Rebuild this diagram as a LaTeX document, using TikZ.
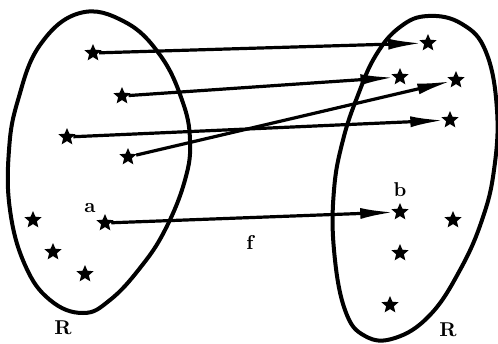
\documentclass[tikz,border=0pt]{standalone}
\usepackage{tikz}
\usetikzlibrary{arrows.meta, shapes.geometric}

\tikzset{
  pt/.style={star, star points=5, star point ratio=2.2, fill, inner sep=0pt, minimum size=9pt},
  lbl/.style={font=\normalsize\bfseries},
  set/.style={line width=2pt},
  map/.style={line width=1.6pt, -{Latex[length=17pt,width=5.5pt]}}
}

\begin{document}
\begin{tikzpicture}[x=0.5pt,y=-0.5pt]
  \useasboundingbox (0,0) rectangle (498,343);
  % the two sets
  \draw[set] plot[smooth cycle, tension=0.7] coordinates {(80,13) (125,22) (160,55) (182,100) (190,140) (185,180) (165,230) (140,268) (110,300) (83,313) (50,300) (25,265) (10,210) (9,150) (18,100) (40,45)};
  \draw[set] plot[smooth cycle, tension=0.7] coordinates {(428,16) (462,24) (486,52) (497,110) (494,170) (482,220) (460,270) (430,315) (395,338) (365,336) (345,310) (334,250) (334,190) (343,140) (358,95) (376,55) (400,27)};
  % points of the domain
  \node[pt] (l1) at (93,53) {};
  \node[pt] (l2) at (122,96) {};
  \node[pt] (l3) at (67,137) {};
  \node[pt] (l4) at (128,157) {};
  \node[pt] (l5) at (105,223) {};
  \node[pt] (l6) at (33,220) {};
  \node[pt] (l7) at (53,252) {};
  \node[pt] (l8) at (85,274) {};
  % points of the codomain
  \node[pt] (r1) at (428,43) {};
  \node[pt] (r2) at (400,77) {};
  \node[pt] (r3) at (456,80) {};
  \node[pt] (r4) at (450,120) {};
  \node[pt] (r5) at (400,212) {};
  \node[pt] (r6) at (453,220) {};
  \node[pt] (r7) at (400,253) {};
  \node[pt] (r8) at (390,305) {};
  % labels
  \node[lbl] (a) at (90,208) {a};
  \node[lbl] (b) at (400,190) {b};
  \node[lbl] (dom) at (63,328) {R};
  \node[lbl] (cod) at (448,330) {R};
  % the mapping
  \draw[map] (l1) -- (r1);
  \draw[map] (l2) -- (r2);
  \draw[map] (l3) -- (r4);
  \draw[map] (l4) -- (r3);
  \draw[map] (l5) -- (r5) node[lbl, pos=0.49, below=5pt] (f) {f};
\end{tikzpicture}
\end{document}
